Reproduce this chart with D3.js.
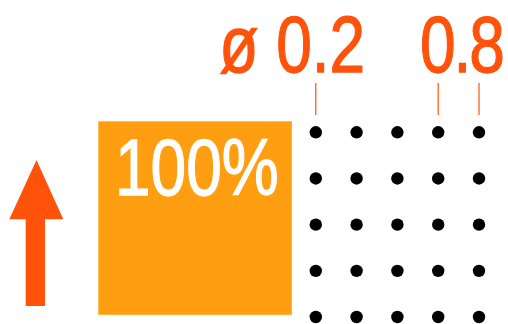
<!DOCTYPE html>
<html><head><meta charset="utf-8">
<script src="https://cdn.jsdelivr.net/npm/d3@7"></script>
<style>html,body{margin:0;padding:0;background:#fff;overflow:hidden}</style>
</head><body>
<script>
// data
const gridCols = [0, 1, 2, 3, 4];
const gridRows = [0, 1, 2, 3, 4];
const tickCols = [0, 3, 4];
const labelTexts = ["ø 0.2", "0.8"];
const fillLabel = ["100%"];

const W = 508, H = 324;
const ORANGE = "#ff9e10", RED = "#ff520a";
const FONT = "'Liberation Sans', Arial, Helvetica, sans-serif";
const SX = 0.8;

const svg = d3.select("body").append("svg").attr("width", W).attr("height", H);

const x = d3.scaleLinear().domain([0, 4]).range([315.8, 479]);
const y = d3.scaleLinear().domain([0, 4]).range([132.3, 317]);

// orange square
svg.append("rect").attr("x", 98.3).attr("y", 121.3).attr("width", 193.5).attr("height", 193.5).attr("fill", ORANGE);

svg.selectAll("text.fill").data(fillLabel).join("text").attr("class", "fill")
  .attr("transform", `translate(115,195) scale(${SX},1)`)
  .attr("font-family", FONT).attr("font-size", 80).attr("fill", "#fff")
  .attr("stroke", "#fff").attr("stroke-width", 1.3).text(d => d);

// dots
const pts = [];
gridRows.forEach(r => gridCols.forEach(c => pts.push({r, c})));
svg.selectAll("circle.dot").data(pts).join("circle").attr("class", "dot")
  .attr("cx", d => x(d.c)).attr("cy", d => y(d.r)).attr("r", 6.2).attr("fill", "#000");

// ticks
svg.selectAll("line.tick").data(tickCols).join("line").attr("class", "tick")
  .attr("x1", d => x(d)).attr("x2", d => x(d)).attr("y1", 83).attr("y2", 115)
  .attr("stroke", RED).attr("stroke-width", 1.2);

// labels
const labelX = [x(0) - 96.5, (x(3) + x(4)) / 2 - 38.5];
const labelLS = [0, -2.6];
svg.selectAll("text.lbl").data(labelTexts).join("text").attr("class", "lbl")
  .attr("transform", (d, i) => `translate(${labelX[i]},72) scale(${SX},1)`)
  .attr("letter-spacing", (d, i) => labelLS[i])
  .attr("font-family", FONT).attr("font-size", 80).attr("fill", RED)
  .attr("stroke", RED).attr("stroke-width", 1.3).text(d => d);

// arrow
const ap = d3.path();
ap.moveTo(36.5, 160); ap.lineTo(63.3, 219.3); ap.lineTo(45, 219.3); ap.lineTo(45, 306);
ap.lineTo(25.7, 306); ap.lineTo(25.7, 219.3); ap.lineTo(9.3, 219.3); ap.closePath();
svg.append("path").attr("d", ap.toString()).attr("fill", RED);
</script>
</body></html>
